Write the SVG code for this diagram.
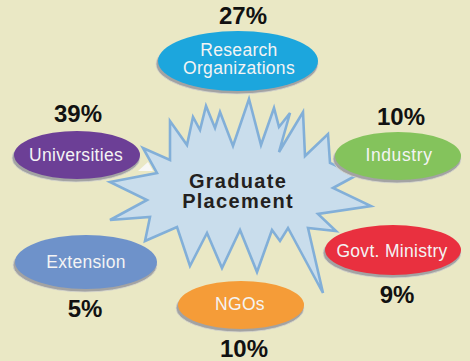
<svg xmlns="http://www.w3.org/2000/svg" width="470" height="361" viewBox="0 0 470 361">
<style>
.bg{fill:#EAE8C5}
.rim{fill:#A3A3A3;stroke:#D8D8D0;stroke-width:0.8}
.lbl{font-family:"Liberation Sans",Arial,sans-serif;font-size:17.5px;fill:#F4F4F4;text-anchor:middle;letter-spacing:0.3px}
.pct{font-family:"Liberation Sans",Arial,sans-serif;font-size:24px;font-weight:bold;fill:#111111;text-anchor:middle}
.star{fill:#C9DDEC;stroke:#82AFD8;stroke-width:2.6;stroke-linejoin:miter}
.center{font-family:"Liberation Sans",Arial,sans-serif;font-size:20px;font-weight:bold;fill:#231F20;text-anchor:middle;letter-spacing:1.3px}
</style>
<rect class="bg" x="0" y="0" width="470" height="361"/>
<g id="graduate-placement">
<polygon class="star" points="249,99 261,145 274,108 279,127 290,113 279,152 303,112 305,156 328,134 330,163 357,175 333,188 371,206 318,214 336,231 308,228 323,293 288,228 280,241 272,230 257,272 240,230 222,268 207,233 190,266 177,227 145,241 150,217 110,220 147,200 110,182 157,173 143,148 170,160 170,121 187,145 193,117 200,130 206,106 215,128 220,112 233,146"/>
<polygon points="138,171 148,162 153,171" fill="#F8F8F6"/>
<text class="center" x="238" y="188">Graduate</text>
<text class="center" x="238" y="208">Placement</text>
</g>
<g id="research-organizations">
<ellipse class="rim" cx="237" cy="64" rx="81" ry="30"/>
<ellipse cx="238" cy="61" rx="80" ry="30" fill="#1CA6DD"/>
<text class="lbl" x="239" y="56">Research</text>
<text class="lbl" x="239" y="74">Organizations</text>
<text class="pct" x="243" y="24">27%</text>
</g>
<g id="universities">
<ellipse class="rim" cx="76" cy="158" rx="64" ry="24"/>
<ellipse cx="77" cy="155" rx="63" ry="24" fill="#6C3F96"/>
<text class="lbl" x="76" y="161">Universities</text>
<text class="pct" x="78" y="122">39%</text>
</g>
<g id="industry">
<ellipse class="rim" cx="397" cy="159" rx="64" ry="24"/>
<ellipse cx="398" cy="156" rx="63" ry="24" fill="#84C35C"/>
<text class="lbl" x="399" y="161" style="letter-spacing:0.6px">Industry</text>
<text class="pct" x="401" y="125">10%</text>
</g>
<g id="govt-ministry">
<ellipse class="rim" cx="392" cy="253" rx="69" ry="25"/>
<ellipse cx="393" cy="250" rx="68" ry="25" fill="#E9303F"/>
<text class="lbl" x="392" y="257">Govt. Ministry</text>
<text class="pct" x="397" y="303">9%</text>
</g>
<g id="extension">
<ellipse class="rim" cx="85" cy="265" rx="72" ry="27"/>
<ellipse cx="86" cy="262" rx="71" ry="27" fill="#6E92CA"/>
<text class="lbl" x="86" y="268">Extension</text>
<text class="pct" x="85" y="317">5%</text>
</g>
<g id="ngos">
<ellipse class="rim" cx="240" cy="308" rx="64" ry="24"/>
<ellipse cx="241" cy="305" rx="63" ry="24" fill="#F59C38"/>
<text class="lbl" x="240" y="310">NGOs</text>
<text class="pct" x="244" y="357">10%</text>
</g>
</svg>
